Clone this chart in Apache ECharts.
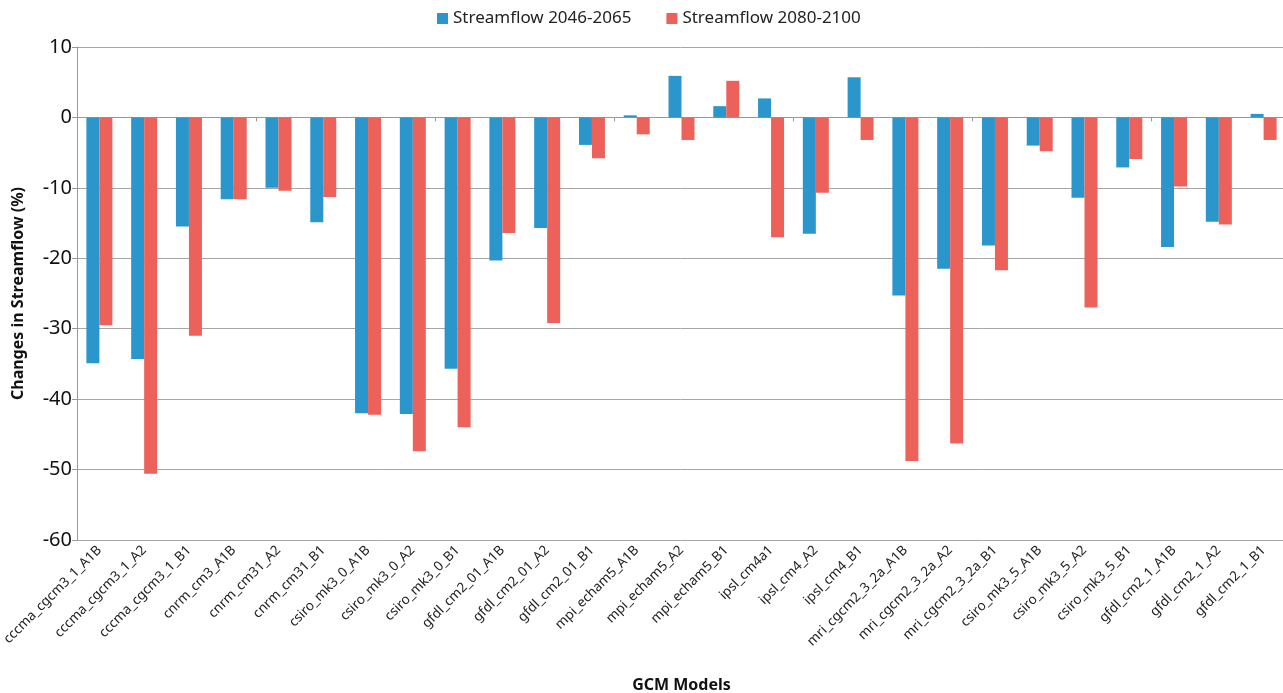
<!DOCTYPE html>
<html>
<head>
<meta charset="utf-8">
<script src="https://cdn.jsdelivr.net/npm/echarts@6/dist/echarts.min.js"></script>
<style>
  html, body { margin: 0; padding: 0; background: #fff; }
  #chart { width: 1283px; height: 693px; }
</style>
</head>
<body>
<div id="chart"></div>
<script>
// GCM model runs
const models = [
  'cccma_cgcm3_1_A1B', 'cccma_cgcm3_1_A2', 'cccma_cgcm3_1_B1',
  'cnrm_cm3_A1B', 'cnrm_cm31_A2', 'cnrm_cm31_B1',
  'csiro_mk3_0_A1B', 'csiro_mk3_0_A2', 'csiro_mk3_0_B1',
  'gfdl_cm2_01_A1B', 'gfdl_cm2_01_A2', 'gfdl_cm2_01_B1',
  'mpi_echam5_A1B', 'mpi_echam5_A2', 'mpi_echam5_B1',
  'ipsl_cm4a1', 'ipsl_cm4_A2', 'ipsl_cm4_B1',
  'mri_cgcm2_3_2a_A1B', 'mri_cgcm2_3_2a_A2', 'mri_cgcm2_3_2a_B1',
  'csiro_mk3_5_A1B', 'csiro_mk3_5_A2', 'csiro_mk3_5_B1',
  'gfdl_cm2_1_A1B', 'gfdl_cm2_1_A2', 'gfdl_cm2_1_B1'
];

// Change in streamflow (%), mid-century
const flow2046 = [
  -34.9, -34.3, -15.5,
  -11.6, -10.0, -14.9,
  -42.0, -42.1, -35.7,
  -20.3, -15.7, -3.9,
  0.3, 5.9, 1.6,
  2.7, -16.5, 5.7,
  -25.3, -21.5, -18.2,
  -4.0, -11.4, -7.1,
  -18.4, -14.8, 0.5
];

// Change in streamflow (%), end of century
const flow2080 = [
  -29.5, -50.6, -31.0,
  -11.6, -10.4, -11.3,
  -42.2, -47.4, -44.0,
  -16.4, -29.2, -5.8,
  -2.4, -3.2, 5.2,
  -17.0, -10.7, -3.2,
  -48.8, -46.3, -21.7,
  -4.8, -27.0, -5.9,
  -9.8, -15.2, -3.2
];

const seriesNames = ['Streamflow 2046-2065', 'Streamflow 2080-2100'];
const seriesColors = ['#2A96CB', '#EC625A'];

const chart = echarts.init(document.getElementById('chart'), null, { renderer: 'canvas' });

chart.setOption({
  animation: false,
  backgroundColor: '#ffffff',
  textStyle: { fontFamily: 'Noto Sans' },
  legend: {
    top: 5,
    left: 432,
    itemWidth: 11,
    itemHeight: 11,
    itemGap: 35,
    icon: 'rect',
    textStyle: { fontSize: 17, color: '#222', fontFamily: 'Noto Sans' },
    data: seriesNames
  },
  grid: {
    left: 77, right: -3, top: 47, bottom: 153,
    containLabel: false,
    outerBoundsMode: 'none'
  },
  xAxis: [
    {
      type: 'category',
      data: models,
      position: 'bottom',
      axisLine: { show: false, onZero: false },
      axisTick: { show: false },
      axisLabel: {
        rotate: 45,
        interval: 0,
        margin: 8,
        fontSize: 13.5,
        color: '#222',
        fontFamily: 'Noto Sans'
      },
      name: 'GCM Models',
      nameLocation: 'middle',
      nameGap: 137,
      nameTextStyle: { fontSize: 16, fontWeight: 'bold', color: '#111', fontFamily: 'Noto Sans' }
    },
    {
      // zero baseline with category separators
      type: 'category',
      data: models,
      position: 'bottom',
      axisLine: { show: true, onZero: true, lineStyle: { color: '#999', width: 1 } },
      axisTick: { show: true, length: 4, lineStyle: { color: '#999' } },
      axisLabel: { show: false }
    }
  ],
  yAxis: {
    type: 'value',
    min: -60,
    max: 10,
    interval: 10,
    axisLine: { show: true, lineStyle: { color: '#999', width: 1 } },
    axisTick: { show: true, length: 5, lineStyle: { color: '#999' } },
    axisLabel: { fontSize: 20, color: '#111', margin: 5, fontFamily: 'Noto Sans' },
    splitLine: { show: true, lineStyle: { color: '#a6a6a6', width: 1 } },
    name: 'Changes in Streamflow (%)',
    nameLocation: 'middle',
    nameGap: 51,
    nameRotate: 90,
    nameTextStyle: { fontSize: 16, fontWeight: 'bold', color: '#111', fontFamily: 'Noto Sans' }
  },
  series: [
    {
      name: seriesNames[0],
      type: 'bar',
      xAxisIndex: 0,
      data: flow2046,
      barWidth: 13,
      barGap: '0%',
      itemStyle: { color: seriesColors[0] }
    },
    {
      name: seriesNames[1],
      type: 'bar',
      xAxisIndex: 0,
      data: flow2080,
      barWidth: 13,
      barGap: '0%',
      itemStyle: { color: seriesColors[1] }
    }
  ]
});
</script>
</body>
</html>
